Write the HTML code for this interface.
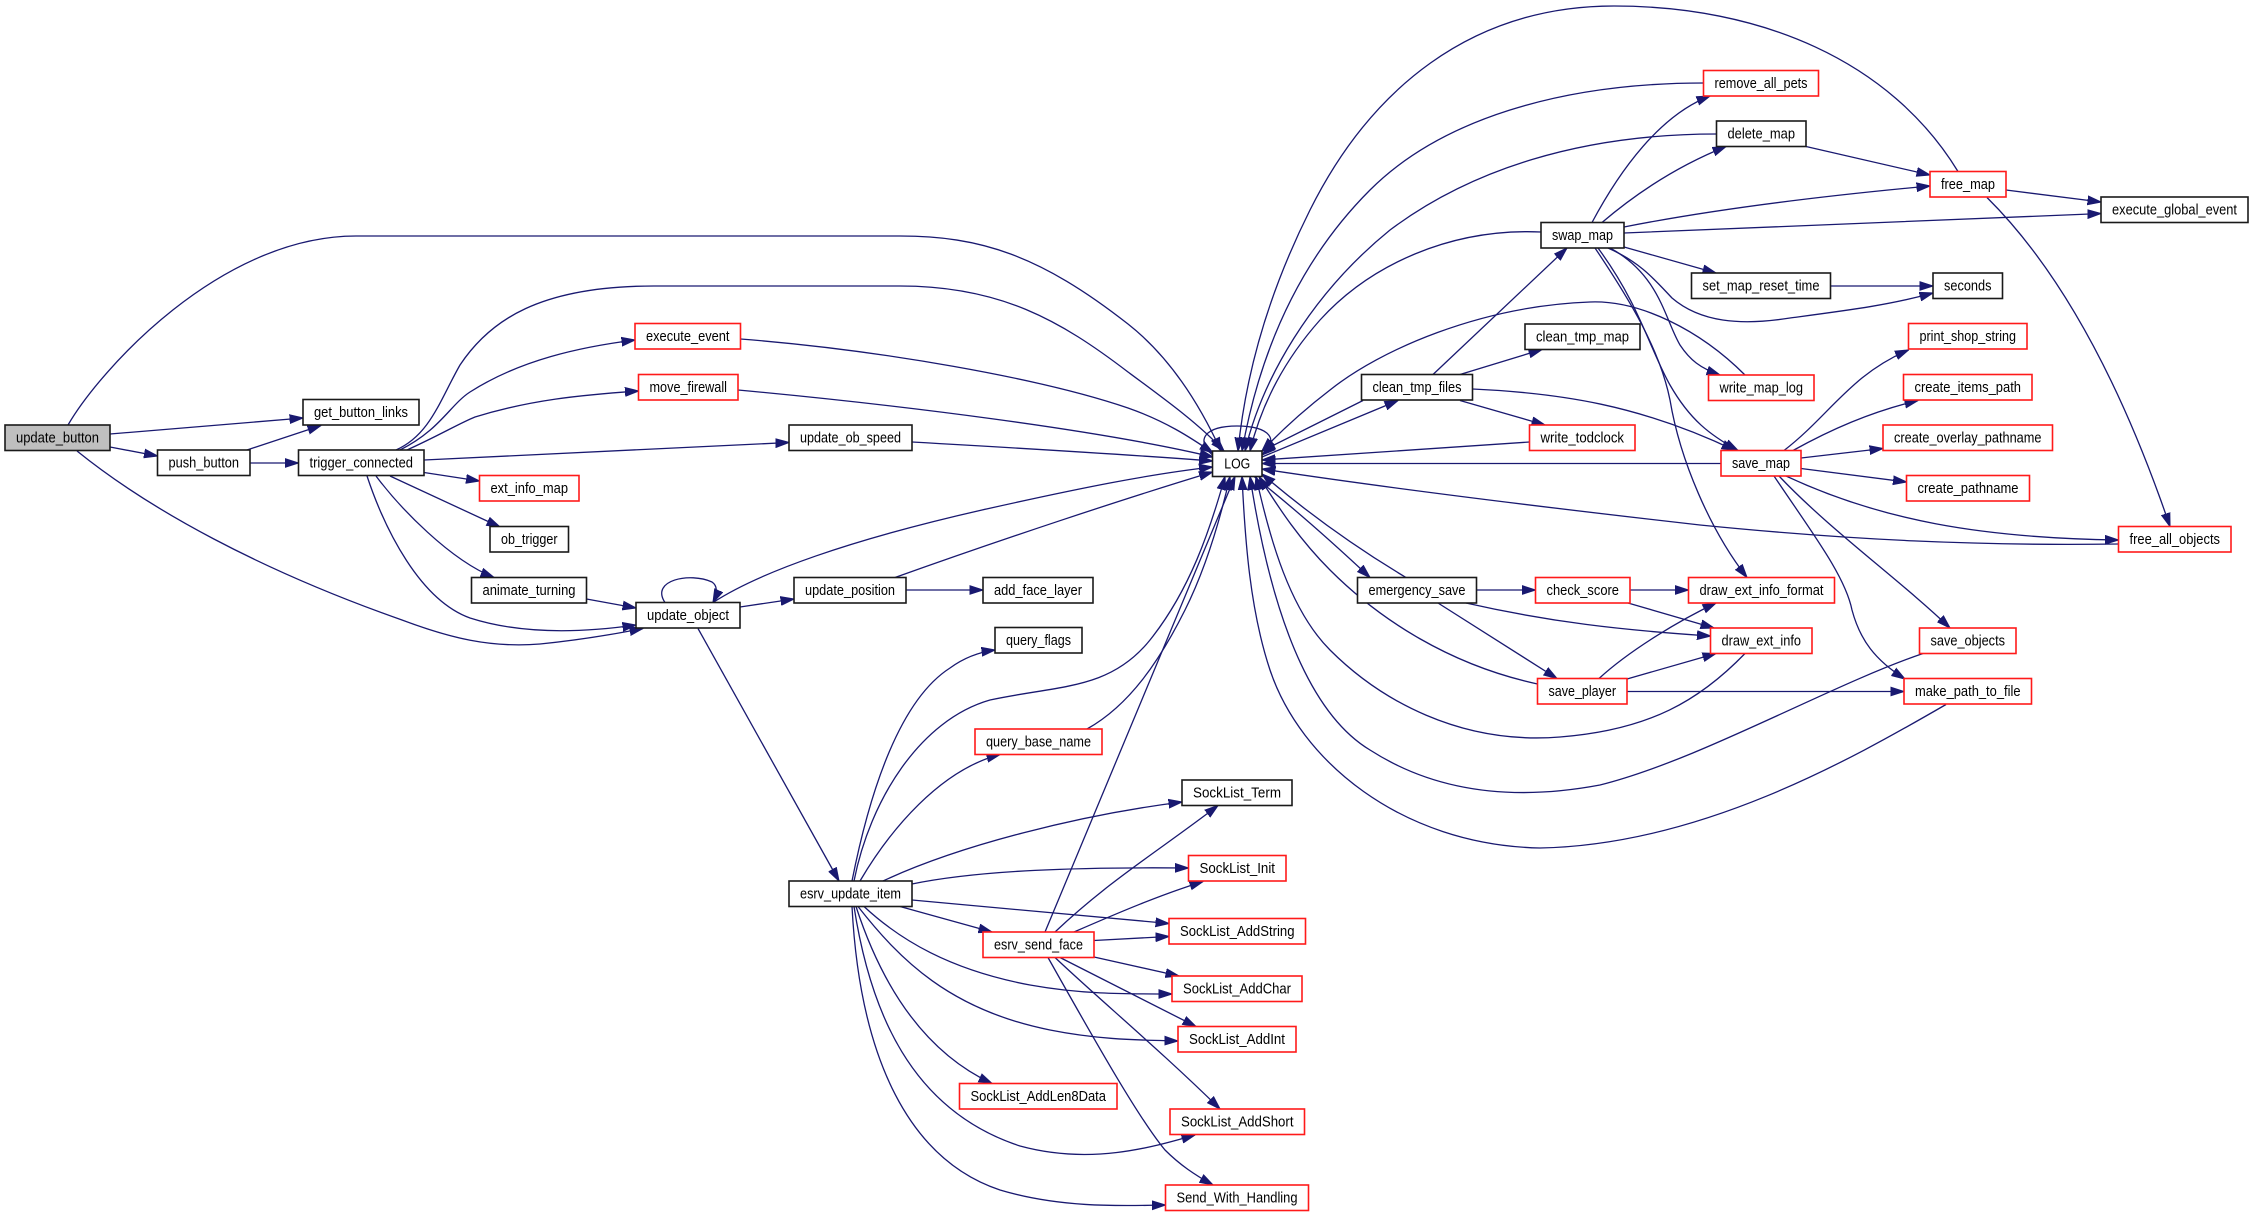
<!DOCTYPE html>
<html><head><meta charset="utf-8"><style>
html,body{margin:0;padding:0;background:#fff;}
svg{display:block;}
.e{fill:none;stroke:#191970;stroke-width:1.3;marker-end:url(#a);}
.b rect{fill:#fff;stroke:#1a1a1a;stroke-width:1.6;}
.r rect{fill:#fff;stroke:#ff1a1a;stroke-width:1.6;}
text{font-family:"Liberation Sans",sans-serif;font-size:14.5px;fill:#000;text-anchor:middle;}
</style></head><body>
<svg width="2253" height="1217" viewBox="0 0 2253 1217" xmlns="http://www.w3.org/2000/svg">
<defs><marker id="a" markerUnits="userSpaceOnUse" markerWidth="14" markerHeight="10" refX="13.5" refY="5" orient="auto" viewBox="0 0 14 10"><path d="M0,0.5 L14,5 L0,9.5 z" fill="#191970" stroke="#191970" stroke-width="0.8"/></marker></defs>
<rect width="2253" height="1217" fill="#fff"/>
<g>
<path class="e" d="M68,425 C100,370 220,236 356,236 L900,236 C980,236 1040,255 1128,324 C1170,357 1200,405 1221,451"/>
<path class="e" d="M396,450 C430,435 440,400 460,365 C490,320 540,286 654,286 L900,286 C1000,286 1060,320 1128,372 C1170,403 1200,425 1224,451"/>
<path class="e" d="M400,450 C440,430 450,405 470,392 C520,360 580,347 635,340"/>
<path class="e" d="M407,450 C440,435 460,423 475,417 C530,400 580,395 638.5,391"/>
<path class="e" d="M424,460 L789,442.5"/>
<path class="e" d="M424,472.5 L479.5,481"/>
<path class="e" d="M390,476 L500,527"/>
<path class="e" d="M376,476 C400,508 450,560 494,577.5"/>
<path class="e" d="M367,476 C385,530 420,600 470,618 C520,634 580,633 636,625"/>
<path class="e" d="M77,451 C150,510 260,570 402,620 C450,638 490,648 540,644 C580,640 615,634 643,628.5"/>
<path class="e" d="M110,434 L303,418"/>
<path class="e" d="M110,447 L157.5,456"/>
<path class="e" d="M247,450 L321,425.5"/>
<path class="e" d="M250,463 L298.5,463"/>
<path class="e" d="M586.5,599 L636,608"/>
<path class="e" d="M665,602.5 C650,580 690,572 712,582 C718,586 717,594 713,602.5"/>
<path class="e" d="M713,602.5 C760,572 850,540 982,510 C1080,488 1150,474 1212.5,467"/>
<path class="e" d="M740,607 L794,599"/>
<path class="e" d="M698,628.5 L839,881"/>
<path class="e" d="M895,577.5 C1000,540 1120,500 1212.5,472"/>
<path class="e" d="M906,590 L983,590"/>
<path class="e" d="M912,442 C1000,447 1120,454 1212.5,461"/>
<path class="e" d="M740.5,339 C880,350 1040,378 1128,408 C1165,421 1190,437 1213,453"/>
<path class="e" d="M738,390 C900,405 1100,430 1213,457"/>
<path class="e" d="M1212.5,455 C1195,440 1205,426 1237,426 C1270,426 1280,440 1262,455"/>
<path class="e" d="M1958,171.5 C1890,60 1760,6 1614,6 C1470,6 1370,90 1310,210 C1265,300 1245,380 1238,451"/>
<path class="e" d="M1703.5,83 C1560,83 1440,120 1370,190 C1300,260 1260,350 1242,451"/>
<path class="e" d="M1716.5,134 C1580,134 1470,170 1390,230 C1310,295 1262,380 1245,451"/>
<path class="e" d="M1541,232 C1450,228 1370,265 1320,320 C1280,365 1260,410 1250,451"/>
<path class="e" d="M1745,375 C1700,330 1640,300 1590,302 C1480,306 1380,350 1330,390 C1300,413 1280,432 1262,451"/>
<path class="e" d="M1363,400.5 L1262,451"/>
<path class="e" d="M1262,457 L1398,400.5"/>
<path class="e" d="M1721,463.5 L1262,463.5"/>
<path class="e" d="M1529.5,442 L1262,460"/>
<path class="e" d="M2118.5,544 C1980,546 1850,540 1700,525 C1550,508 1400,490 1262,469"/>
<path class="e" d="M1987,197.5 C2060,270 2120,380 2170,526.5"/>
<path class="e" d="M1592,222.5 C1620,170 1660,115 1710,96"/>
<path class="e" d="M1602,222.5 C1640,190 1680,165 1726,146.5"/>
<path class="e" d="M1806,146.5 L1930,175"/>
<path class="e" d="M1624,227 C1700,212 1800,198 1930,186"/>
<path class="e" d="M1624,233 C1800,226 1950,220 2101,213.5"/>
<path class="e" d="M2006,190 L2101,202"/>
<path class="e" d="M1624,247 L1716,273"/>
<path class="e" d="M1830.5,286 L1933,286"/>
<path class="e" d="M1608,248 C1640,262 1655,280 1672,298 C1700,322 1740,326 1790,318 C1850,310 1890,305 1933,293"/>
<path class="e" d="M1610,248 C1660,275 1665,320 1680,345 C1690,360 1700,368 1720,375"/>
<path class="e" d="M1598,248 C1640,305 1650,350 1670,385 C1690,420 1710,435 1738,450.5"/>
<path class="e" d="M1595,248 C1630,300 1660,350 1670,400 C1680,460 1710,530 1747,577.5"/>
<path class="e" d="M1433,374.5 L1567,248"/>
<path class="e" d="M1460,374.5 L1542,349.5"/>
<path class="e" d="M1472.5,389 C1560,393 1640,405 1735,450.5"/>
<path class="e" d="M1460,400.5 L1545,425"/>
<path class="e" d="M1784,450.5 C1830,415 1850,375 1908.5,350"/>
<path class="e" d="M1793,450.5 C1830,430 1870,412 1918,400.5"/>
<path class="e" d="M1801,458 L1883,448.5"/>
<path class="e" d="M1801,468.5 L1906.5,482"/>
<path class="e" d="M1786,476 C1880,520 1980,538 2118.5,540"/>
<path class="e" d="M1779,476 C1830,530 1900,580 1950,628"/>
<path class="e" d="M1774,476 C1810,530 1845,575 1852,610 C1860,640 1875,660 1905,679"/>
<path class="e" d="M1476.5,590 L1535.5,590"/>
<path class="e" d="M1630,590 L1688.5,590"/>
<path class="e" d="M1466,603 C1550,622 1620,630 1710.5,636"/>
<path class="e" d="M1438,603 L1557,678.5"/>
<path class="e" d="M1628,603 L1714,628"/>
<path class="e" d="M1599,678.5 C1630,650 1680,620 1716,603"/>
<path class="e" d="M1627,679 L1716,653.5"/>
<path class="e" d="M1627,691.5 L1904,691.5"/>
<path class="e" d="M1946,704.5 C1850,760 1700,845 1540,848 C1400,845 1300,760 1270,670 C1250,610 1245,540 1242,476.5"/>
<path class="e" d="M1923,653.5 C1830,685 1700,760 1600,785 C1520,800 1440,795 1370,750 C1320,720 1275,640 1250,476.5"/>
<path class="e" d="M1745,653.5 C1700,700 1650,730 1560,737 C1460,745 1380,700 1330,650 C1290,610 1270,540 1256,476.5"/>
<path class="e" d="M1537.5,684 C1450,665 1380,620 1330,570 C1300,540 1280,510 1259,476.5"/>
<path class="e" d="M1406,577.5 C1360,550 1310,515 1262,474"/>
<path class="e" d="M1254,476.5 C1290,505 1330,540 1370,577.5"/>
<path class="e" d="M1087,729 C1130,705 1160,660 1185,610 C1205,570 1220,520 1230,476.5"/>
<path class="e" d="M1045,932 L1235,476.5"/>
<path class="e" d="M854,881 C870,800 920,720 990,700 C1060,685 1110,690 1150,640 C1190,590 1210,530 1225,476.5"/>
<path class="e" d="M852,881 C870,790 900,700 950,668 C965,657 980,652 995,650"/>
<path class="e" d="M860,881 C890,830 940,770 1000,754.5"/>
<path class="e" d="M883,881 C960,845 1080,815 1182,802"/>
<path class="e" d="M912,884 C980,870 1080,867 1188.5,868"/>
<path class="e" d="M912,900 L1169,923.5"/>
<path class="e" d="M900,906.5 L992,932"/>
<path class="e" d="M864,906.5 C900,940 950,970 1030,985 C1080,994 1120,994 1172,994"/>
<path class="e" d="M858,906.5 C900,960 950,1010 1050,1030 C1100,1040 1140,1040 1178,1041"/>
<path class="e" d="M856,906.5 C880,980 920,1050 992,1083.5"/>
<path class="e" d="M854,906.5 C870,1010 910,1110 1020,1146 C1090,1165 1150,1148 1195,1135"/>
<path class="e" d="M852,906.5 C860,1060 910,1160 1000,1190 C1060,1208 1120,1206 1165.5,1205"/>
<path class="e" d="M1055,932 C1110,880 1160,850 1218,805.5"/>
<path class="e" d="M1074,932 C1120,912 1160,895 1203,881.5"/>
<path class="e" d="M1094,940.5 L1169,936.5"/>
<path class="e" d="M1094,957 L1179,976"/>
<path class="e" d="M1060,957.5 L1196,1026.5"/>
<path class="e" d="M1055,957.5 C1100,1000 1160,1050 1220,1109"/>
<path class="e" d="M1048,957.5 C1100,1050 1140,1120 1165,1150 C1180,1165 1195,1175 1213,1185"/>
</g>
<g class="b"><rect x="5" y="425" width="105" height="25.5" style="fill:#bfbfbf"/><text x="57.5" y="442.5" textLength="83" lengthAdjust="spacingAndGlyphs">update_button</text></g>
<g class="b"><rect x="303" y="399.5" width="116" height="25.5"/><text x="361" y="417" textLength="94" lengthAdjust="spacingAndGlyphs">get_button_links</text></g>
<g class="b"><rect x="157.5" y="450" width="92.5" height="25.5"/><text x="203.75" y="467.5" textLength="70.5" lengthAdjust="spacingAndGlyphs">push_button</text></g>
<g class="b"><rect x="298.5" y="450" width="125.5" height="25.5"/><text x="361.25" y="467.5" textLength="103.5" lengthAdjust="spacingAndGlyphs">trigger_connected</text></g>
<g class="r"><rect x="635" y="323.5" width="105.5" height="25.5"/><text x="687.75" y="341" textLength="83.5" lengthAdjust="spacingAndGlyphs">execute_event</text></g>
<g class="r"><rect x="638.5" y="374.5" width="99.5" height="25.5"/><text x="688.25" y="392" textLength="77.5" lengthAdjust="spacingAndGlyphs">move_firewall</text></g>
<g class="r"><rect x="479.5" y="475.5" width="99.5" height="25.5"/><text x="529.25" y="493" textLength="77.5" lengthAdjust="spacingAndGlyphs">ext_info_map</text></g>
<g class="b"><rect x="490" y="526.5" width="78.5" height="25.5"/><text x="529.25" y="544" textLength="56.5" lengthAdjust="spacingAndGlyphs">ob_trigger</text></g>
<g class="b"><rect x="471.5" y="577.5" width="115" height="25.5"/><text x="529" y="595" textLength="93" lengthAdjust="spacingAndGlyphs">animate_turning</text></g>
<g class="b"><rect x="636" y="602.5" width="104" height="25.5"/><text x="688" y="620" textLength="82" lengthAdjust="spacingAndGlyphs">update_object</text></g>
<g class="b"><rect x="789" y="425" width="123" height="25.5"/><text x="850.5" y="442.5" textLength="101" lengthAdjust="spacingAndGlyphs">update_ob_speed</text></g>
<g class="b"><rect x="794" y="577.5" width="112" height="25.5"/><text x="850" y="595" textLength="90" lengthAdjust="spacingAndGlyphs">update_position</text></g>
<g class="b"><rect x="983" y="577.5" width="110" height="25.5"/><text x="1038" y="595" textLength="88" lengthAdjust="spacingAndGlyphs">add_face_layer</text></g>
<g class="b"><rect x="1212.5" y="451" width="49.5" height="25.5"/><text x="1237.25" y="468.5" textLength="26" lengthAdjust="spacingAndGlyphs">LOG</text></g>
<g class="b"><rect x="995" y="627.5" width="87" height="25.5"/><text x="1038.5" y="645" textLength="65" lengthAdjust="spacingAndGlyphs">query_flags</text></g>
<g class="r"><rect x="975" y="729" width="127" height="25.5"/><text x="1038.5" y="746.5" textLength="105" lengthAdjust="spacingAndGlyphs">query_base_name</text></g>
<g class="b"><rect x="1182" y="780" width="110" height="25.5"/><text x="1237" y="797.5" textLength="88" lengthAdjust="spacingAndGlyphs">SockList_Term</text></g>
<g class="r"><rect x="1188.5" y="855.5" width="97.5" height="25.5"/><text x="1237.25" y="873" textLength="75.5" lengthAdjust="spacingAndGlyphs">SockList_Init</text></g>
<g class="b"><rect x="789" y="881" width="123" height="25.5"/><text x="850.5" y="898.5" textLength="101" lengthAdjust="spacingAndGlyphs">esrv_update_item</text></g>
<g class="r"><rect x="1169" y="918.5" width="136.5" height="25.5"/><text x="1237.25" y="936" textLength="114.5" lengthAdjust="spacingAndGlyphs">SockList_AddString</text></g>
<g class="r"><rect x="983" y="932" width="111" height="25.5"/><text x="1038.5" y="949.5" textLength="89" lengthAdjust="spacingAndGlyphs">esrv_send_face</text></g>
<g class="r"><rect x="1172" y="976" width="130" height="25.5"/><text x="1237" y="993.5" textLength="108" lengthAdjust="spacingAndGlyphs">SockList_AddChar</text></g>
<g class="r"><rect x="1178" y="1026.5" width="118" height="25.5"/><text x="1237" y="1044" textLength="96" lengthAdjust="spacingAndGlyphs">SockList_AddInt</text></g>
<g class="r"><rect x="959.5" y="1083.5" width="157.5" height="25.5"/><text x="1038.25" y="1101" textLength="135.5" lengthAdjust="spacingAndGlyphs">SockList_AddLen8Data</text></g>
<g class="r"><rect x="1170" y="1109" width="134.5" height="25.5"/><text x="1237.25" y="1126.5" textLength="112.5" lengthAdjust="spacingAndGlyphs">SockList_AddShort</text></g>
<g class="r"><rect x="1165.5" y="1185" width="143" height="25.5"/><text x="1237" y="1202.5" textLength="121" lengthAdjust="spacingAndGlyphs">Send_With_Handling</text></g>
<g class="b"><rect x="1361.5" y="374.5" width="111" height="25.5"/><text x="1417" y="392" textLength="89" lengthAdjust="spacingAndGlyphs">clean_tmp_files</text></g>
<g class="b"><rect x="1357.5" y="577.5" width="119" height="25.5"/><text x="1417" y="595" textLength="97" lengthAdjust="spacingAndGlyphs">emergency_save</text></g>
<g class="r"><rect x="1703.5" y="70.5" width="115" height="25.5"/><text x="1761" y="88" textLength="93" lengthAdjust="spacingAndGlyphs">remove_all_pets</text></g>
<g class="b"><rect x="1716.5" y="121" width="89.5" height="25.5"/><text x="1761.25" y="138.5" textLength="67.5" lengthAdjust="spacingAndGlyphs">delete_map</text></g>
<g class="r"><rect x="1930" y="171.5" width="76" height="25.5"/><text x="1968" y="189" textLength="54" lengthAdjust="spacingAndGlyphs">free_map</text></g>
<g class="b"><rect x="2101" y="197" width="147" height="25.5"/><text x="2174.5" y="214.5" textLength="125" lengthAdjust="spacingAndGlyphs">execute_global_event</text></g>
<g class="b"><rect x="1541" y="222.5" width="83" height="25.5"/><text x="1582.5" y="240" textLength="61" lengthAdjust="spacingAndGlyphs">swap_map</text></g>
<g class="b"><rect x="1691.5" y="273" width="139" height="25.5"/><text x="1761" y="290.5" textLength="117" lengthAdjust="spacingAndGlyphs">set_map_reset_time</text></g>
<g class="b"><rect x="1933" y="273" width="69.5" height="25.5"/><text x="1967.75" y="290.5" textLength="47.5" lengthAdjust="spacingAndGlyphs">seconds</text></g>
<g class="b"><rect x="1525" y="324" width="115" height="25.5"/><text x="1582.5" y="341.5" textLength="93" lengthAdjust="spacingAndGlyphs">clean_tmp_map</text></g>
<g class="r"><rect x="1908.5" y="323.5" width="118.5" height="25.5"/><text x="1967.75" y="341" textLength="96.5" lengthAdjust="spacingAndGlyphs">print_shop_string</text></g>
<g class="r"><rect x="1708.5" y="375" width="105.5" height="25.5"/><text x="1761.25" y="392.5" textLength="83.5" lengthAdjust="spacingAndGlyphs">write_map_log</text></g>
<g class="r"><rect x="1903.5" y="374.5" width="128.5" height="25.5"/><text x="1967.75" y="392" textLength="106.5" lengthAdjust="spacingAndGlyphs">create_items_path</text></g>
<g class="r"><rect x="1529.5" y="425" width="105.5" height="25.5"/><text x="1582.25" y="442.5" textLength="83.5" lengthAdjust="spacingAndGlyphs">write_todclock</text></g>
<g class="r"><rect x="1883" y="425" width="169.5" height="25.5"/><text x="1967.75" y="442.5" textLength="147.5" lengthAdjust="spacingAndGlyphs">create_overlay_pathname</text></g>
<g class="r"><rect x="1721" y="450.5" width="80" height="25.5"/><text x="1761" y="468" textLength="58" lengthAdjust="spacingAndGlyphs">save_map</text></g>
<g class="r"><rect x="1906.5" y="475.5" width="123" height="25.5"/><text x="1968" y="493" textLength="101" lengthAdjust="spacingAndGlyphs">create_pathname</text></g>
<g class="r"><rect x="2118.5" y="526.5" width="112.5" height="25.5"/><text x="2174.75" y="544" textLength="90.5" lengthAdjust="spacingAndGlyphs">free_all_objects</text></g>
<g class="r"><rect x="1535.5" y="577.5" width="94.5" height="25.5"/><text x="1582.75" y="595" textLength="72.5" lengthAdjust="spacingAndGlyphs">check_score</text></g>
<g class="r"><rect x="1688.5" y="577.5" width="146" height="25.5"/><text x="1761.5" y="595" textLength="124" lengthAdjust="spacingAndGlyphs">draw_ext_info_format</text></g>
<g class="r"><rect x="1710.5" y="628" width="101.5" height="25.5"/><text x="1761.25" y="645.5" textLength="79.5" lengthAdjust="spacingAndGlyphs">draw_ext_info</text></g>
<g class="r"><rect x="1919.5" y="628" width="96.5" height="25.5"/><text x="1967.75" y="645.5" textLength="74.5" lengthAdjust="spacingAndGlyphs">save_objects</text></g>
<g class="r"><rect x="1537.5" y="678.5" width="89.5" height="25.5"/><text x="1582.25" y="696" textLength="67.5" lengthAdjust="spacingAndGlyphs">save_player</text></g>
<g class="r"><rect x="1904" y="678.5" width="127.5" height="25.5"/><text x="1967.75" y="696" textLength="105.5" lengthAdjust="spacingAndGlyphs">make_path_to_file</text></g>
</svg>
</body></html>
